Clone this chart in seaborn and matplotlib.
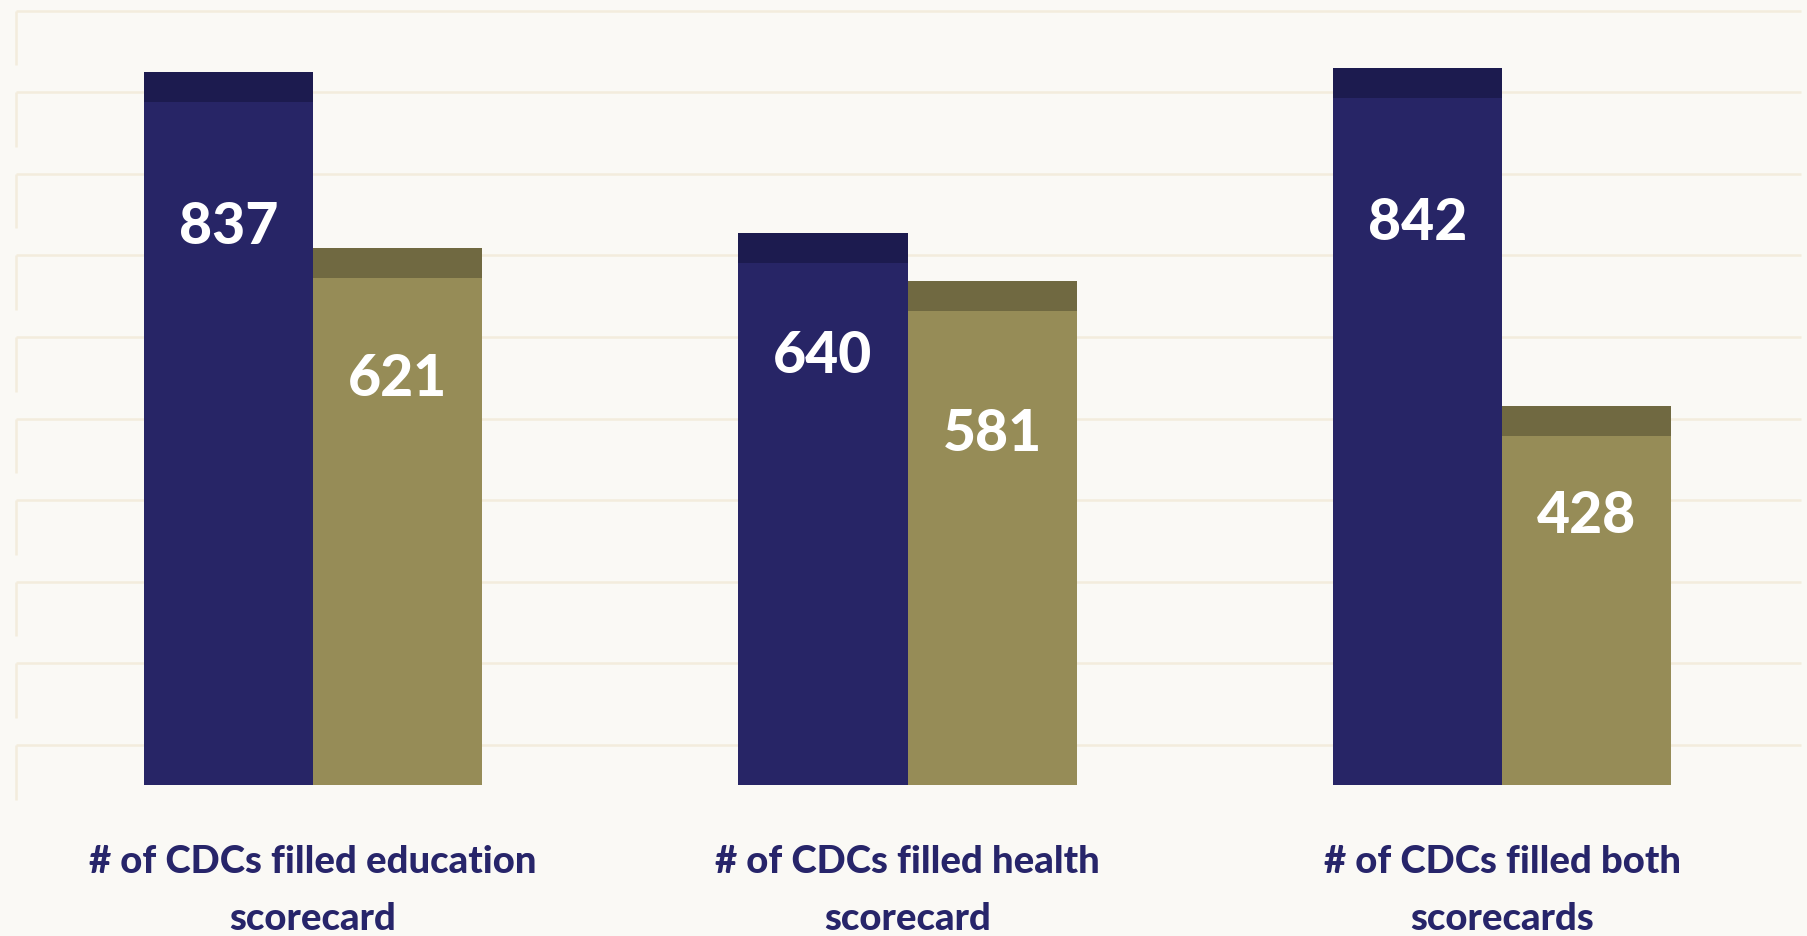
import numpy as np
import matplotlib
matplotlib.use("Agg")
import matplotlib.pyplot as plt
from matplotlib.patches import Rectangle
import pandas as pd
import seaborn as sns

# data
categories = ["# of CDCs filled education\nscorecard",
              "# of CDCs filled health\nscorecard",
              "# of CDCs filled both\nscorecards"]
series = ["Series 1", "Series 2"]
values_s1 = [837, 640, 842]
values_s2 = [621, 581, 428]
# how far each value label sits under the top of its bar (data units)
label_drop = [[154, 115, 154], [124, 152, 99]]

navy = "#272566"
navy_top = "#1c1b4f"
olive = "#968c57"
olive_top = "#706941"
bg = "#faf9f5"
grid_col = "#f3ecdd"
text_col = "#27256a"

rows = []
for c, a, b in zip(categories, values_s1, values_s2):
    rows.append({"category": c, "series": series[0], "value": a})
    rows.append({"category": c, "series": series[1], "value": b})
df = pd.DataFrame(rows)

sns.set_style("white")
plt.rcParams["font.family"] = ["Lato", "DejaVu Sans"]

fig = plt.figure(figsize=(18.08, 9.36), dpi=100)
fig.patch.set_facecolor(bg)
ax = fig.add_axes([0, 0, 1, 1])
ax.set_facecolor(bg)

sns.barplot(data=df, x="category", y="value", hue="series",
            palette=[navy, olive], saturation=1, width=0.569, gap=0,
            legend=False, edgecolor="none", linewidth=0, zorder=2, ax=ax)

# px per unit: 0.816, baseline at 785 px
ppu = 0.816
ax.set_ylim(-(936 - 785) / ppu, 785 / ppu)
ax.set_xlim(-313 / 594.5, (1808 - 313) / 594.5)
ax.axis("off")

# back wall grid (shifted up by the depth of the fake 3d)
wall = 49
depth = 37
x0 = -313 / 594.5 + 16 / 594.5
x1 = -313 / 594.5 + 1801 / 594.5
for k in range(10):
    yy = k * 100 + wall
    ax.plot([x0, x1], [yy, yy], color=grid_col, lw=1.8, zorder=0,
            solid_capstyle="butt")
    ax.plot([x0, x0], [yy, yy - 67], color=grid_col, lw=1.8, zorder=0,
            solid_capstyle="butt")

# dark top face on every bar + value labels
for si, cont in enumerate(ax.containers):
    cap = navy_top if si == 0 else olive_top
    for bi, p in enumerate(cont.patches):
        x, w, h = p.get_x(), p.get_width(), p.get_height()
        ax.add_patch(Rectangle((x, h), w, depth, facecolor=cap,
                               edgecolor="none", zorder=2))
        ax.text(x + w / 2, h - label_drop[si][bi], f"{int(h)}",
                ha="center", va="center", color="white",
                fontsize=41, fontweight="black", zorder=3)

# category labels under the groups
for i, c in enumerate(categories):
    lines = c.split("\n")
    for j, line in enumerate(lines):
        yy = (785 - (862 + 57 * j)) / ppu
        ax.text(i, yy, line, ha="center", va="center", color=text_col,
                fontsize=27.5, fontweight="black")

fig.savefig("out.png", dpi=100, facecolor=bg)
